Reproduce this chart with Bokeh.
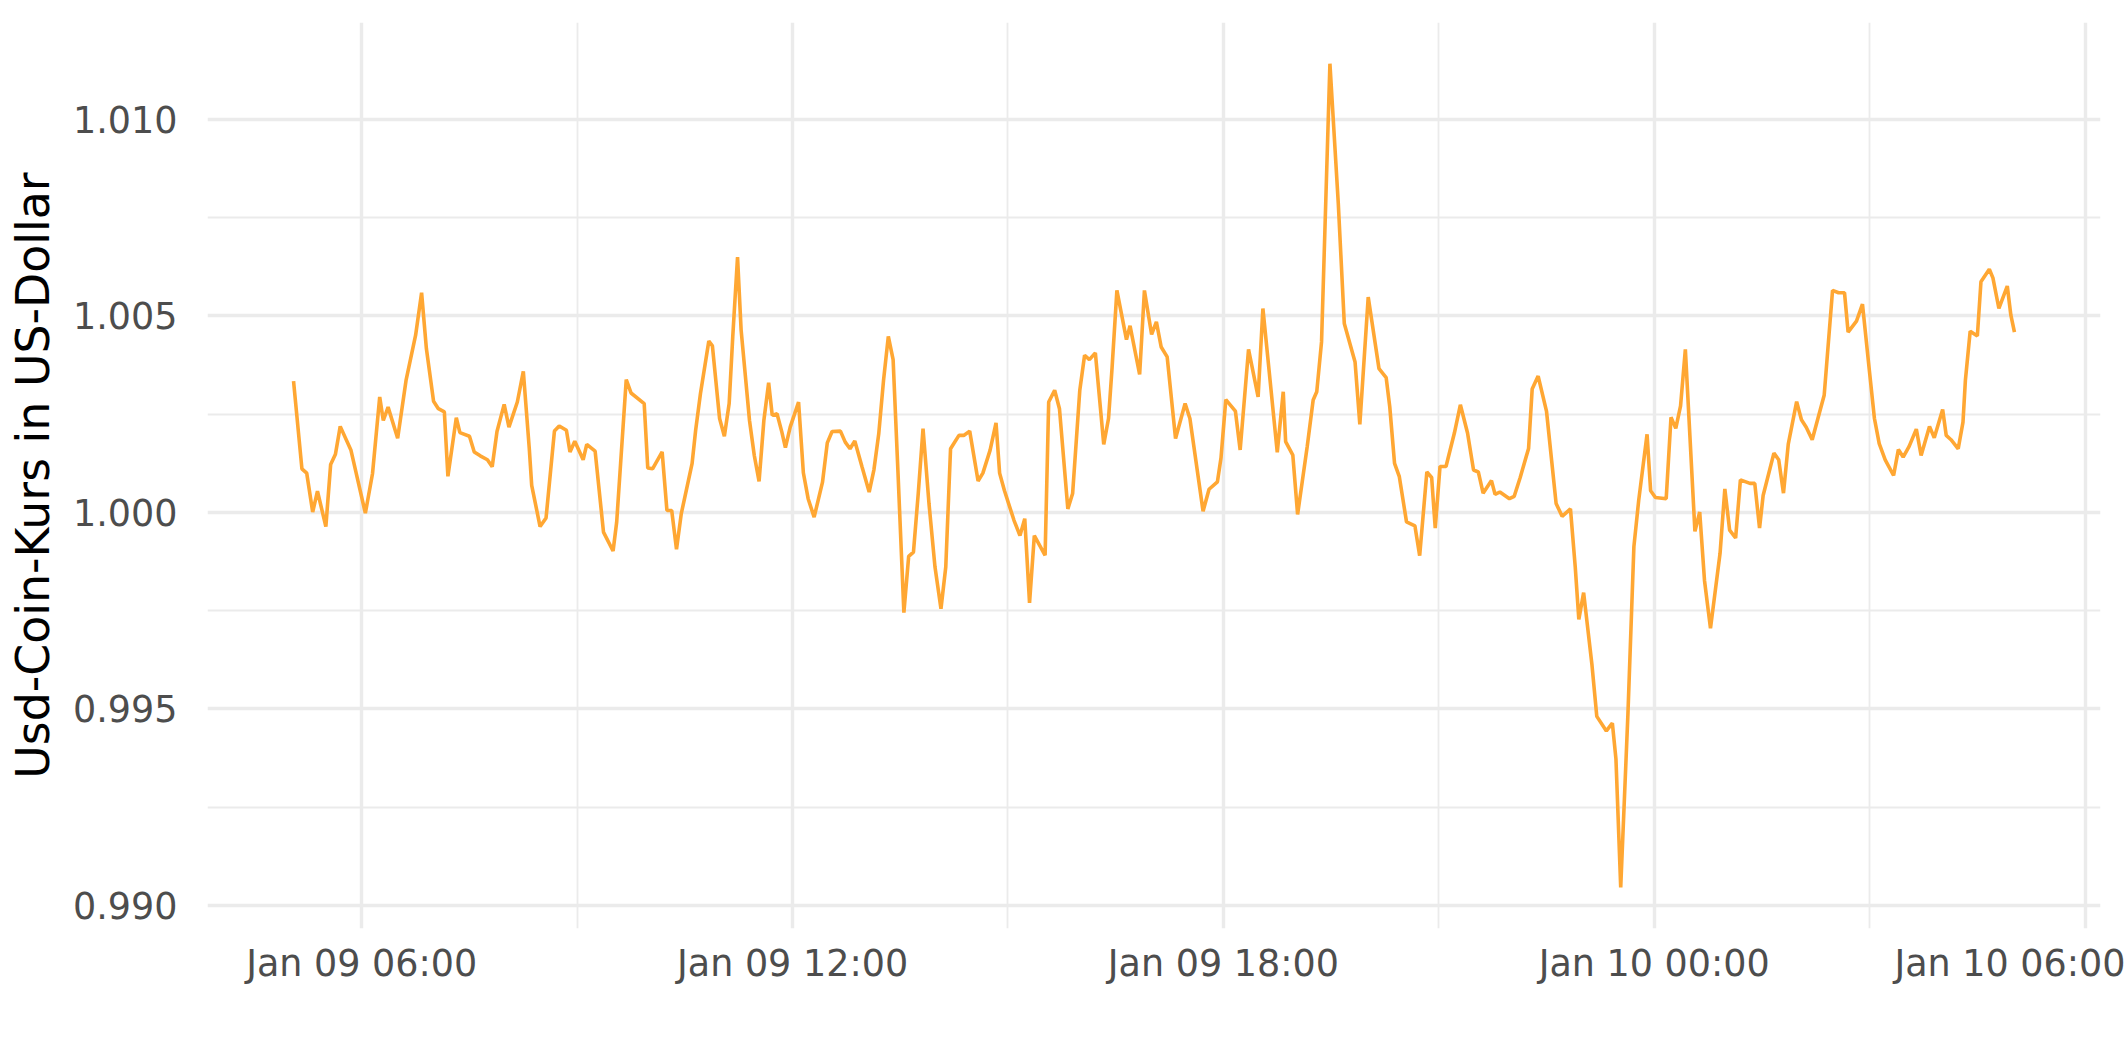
import pandas as pd
from bokeh.plotting import figure
from bokeh.models import Range1d, FixedTicker, DatetimeTickFormatter, NumeralTickFormatter
from bokeh.embed import file_html
from bokeh.resources import INLINE

# ---- data ----
timestamps = [
    "2023-01-09 05:03", "2023-01-09 05:10", "2023-01-09 05:14", "2023-01-09 05:19", "2023-01-09 05:23",
    "2023-01-09 05:30", "2023-01-09 05:34", "2023-01-09 05:38", "2023-01-09 05:42", "2023-01-09 05:51",
    "2023-01-09 06:03", "2023-01-09 06:09", "2023-01-09 06:15", "2023-01-09 06:18", "2023-01-09 06:22",
    "2023-01-09 06:30", "2023-01-09 06:37", "2023-01-09 06:45", "2023-01-09 06:50", "2023-01-09 06:54",
    "2023-01-09 07:00", "2023-01-09 07:04", "2023-01-09 07:09", "2023-01-09 07:12", "2023-01-09 07:19",
    "2023-01-09 07:22", "2023-01-09 07:30", "2023-01-09 07:34", "2023-01-09 07:39", "2023-01-09 07:45",
    "2023-01-09 07:49", "2023-01-09 07:53", "2023-01-09 07:59", "2023-01-09 08:03", "2023-01-09 08:10",
    "2023-01-09 08:15", "2023-01-09 08:20", "2023-01-09 08:22", "2023-01-09 08:29", "2023-01-09 08:34",
    "2023-01-09 08:41", "2023-01-09 08:45", "2023-01-09 08:51", "2023-01-09 08:54", "2023-01-09 08:58",
    "2023-01-09 09:05", "2023-01-09 09:08", "2023-01-09 09:15", "2023-01-09 09:22", "2023-01-09 09:30",
    "2023-01-09 09:33", "2023-01-09 09:41", "2023-01-09 09:45", "2023-01-09 09:56", "2023-01-09 09:59",
    "2023-01-09 10:03", "2023-01-09 10:11", "2023-01-09 10:15", "2023-01-09 10:19", "2023-01-09 10:23",
    "2023-01-09 10:27", "2023-01-09 10:36", "2023-01-09 10:39", "2023-01-09 10:43", "2023-01-09 10:50",
    "2023-01-09 10:53", "2023-01-09 10:59", "2023-01-09 11:03", "2023-01-09 11:07", "2023-01-09 11:10",
    "2023-01-09 11:14", "2023-01-09 11:17", "2023-01-09 11:24", "2023-01-09 11:28", "2023-01-09 11:32",
    "2023-01-09 11:36", "2023-01-09 11:40", "2023-01-09 11:43", "2023-01-09 11:47", "2023-01-09 11:51",
    "2023-01-09 11:54", "2023-01-09 11:58", "2023-01-09 12:05", "2023-01-09 12:09", "2023-01-09 12:13",
    "2023-01-09 12:18", "2023-01-09 12:25", "2023-01-09 12:29", "2023-01-09 12:33", "2023-01-09 12:40",
    "2023-01-09 12:44", "2023-01-09 12:48", "2023-01-09 12:52", "2023-01-09 12:58", "2023-01-09 13:04",
    "2023-01-09 13:08", "2023-01-09 13:12", "2023-01-09 13:16", "2023-01-09 13:20", "2023-01-09 13:24",
    "2023-01-09 13:28", "2023-01-09 13:33", "2023-01-09 13:37", "2023-01-09 13:41", "2023-01-09 13:45",
    "2023-01-09 13:49", "2023-01-09 13:54", "2023-01-09 13:59", "2023-01-09 14:04", "2023-01-09 14:08",
    "2023-01-09 14:12", "2023-01-09 14:19", "2023-01-09 14:23", "2023-01-09 14:28", "2023-01-09 14:35",
    "2023-01-09 14:39", "2023-01-09 14:45", "2023-01-09 14:50", "2023-01-09 14:53", "2023-01-09 14:57",
    "2023-01-09 15:05", "2023-01-09 15:10", "2023-01-09 15:14", "2023-01-09 15:18", "2023-01-09 15:22",
    "2023-01-09 15:31", "2023-01-09 15:34", "2023-01-09 15:39", "2023-01-09 15:43", "2023-01-09 15:50",
    "2023-01-09 15:54", "2023-01-09 16:00", "2023-01-09 16:04", "2023-01-09 16:08", "2023-01-09 16:13",
    "2023-01-09 16:20", "2023-01-09 16:24", "2023-01-09 16:27", "2023-01-09 16:31", "2023-01-09 16:39",
    "2023-01-09 16:42", "2023-01-09 16:50", "2023-01-09 16:54", "2023-01-09 17:00", "2023-01-09 17:04",
    "2023-01-09 17:08", "2023-01-09 17:13", "2023-01-09 17:20", "2023-01-09 17:28", "2023-01-09 17:32",
    "2023-01-09 17:43", "2023-01-09 17:48", "2023-01-09 17:55", "2023-01-09 17:58", "2023-01-09 18:02",
    "2023-01-09 18:10", "2023-01-09 18:14", "2023-01-09 18:21", "2023-01-09 18:29", "2023-01-09 18:33",
    "2023-01-09 18:45", "2023-01-09 18:50", "2023-01-09 18:52", "2023-01-09 18:58", "2023-01-09 19:02",
    "2023-01-09 19:10", "2023-01-09 19:15", "2023-01-09 19:18", "2023-01-09 19:22", "2023-01-09 19:29",
    "2023-01-09 19:36", "2023-01-09 19:41", "2023-01-09 19:50", "2023-01-09 19:54", "2023-01-09 20:01",
    "2023-01-09 20:10", "2023-01-09 20:16", "2023-01-09 20:19", "2023-01-09 20:23", "2023-01-09 20:27",
    "2023-01-09 20:33", "2023-01-09 20:40", "2023-01-09 20:44", "2023-01-09 20:50", "2023-01-09 20:54",
    "2023-01-09 20:57", "2023-01-09 21:01", "2023-01-09 21:06", "2023-01-09 21:13", "2023-01-09 21:18",
    "2023-01-09 21:24", "2023-01-09 21:29", "2023-01-09 21:33", "2023-01-09 21:37", "2023-01-09 21:44",
    "2023-01-09 21:47", "2023-01-09 21:51", "2023-01-09 21:59", "2023-01-09 22:03", "2023-01-09 22:08",
    "2023-01-09 22:15", "2023-01-09 22:18", "2023-01-09 22:23", "2023-01-09 22:30", "2023-01-09 22:38",
    "2023-01-09 22:43", "2023-01-09 22:50", "2023-01-09 22:54", "2023-01-09 22:57", "2023-01-09 23:01",
    "2023-01-09 23:08", "2023-01-09 23:12", "2023-01-09 23:20", "2023-01-09 23:25", "2023-01-09 23:28",
    "2023-01-09 23:32", "2023-01-09 23:38", "2023-01-09 23:43", "2023-01-09 23:47", "2023-01-09 23:54",
    "2023-01-09 23:57", "2023-01-10 00:01", "2023-01-10 00:10", "2023-01-10 00:14", "2023-01-10 00:18",
    "2023-01-10 00:22", "2023-01-10 00:26", "2023-01-10 00:34", "2023-01-10 00:38", "2023-01-10 00:42",
    "2023-01-10 00:47", "2023-01-10 00:55", "2023-01-10 00:59", "2023-01-10 01:03", "2023-01-10 01:08",
    "2023-01-10 01:12", "2023-01-10 01:20", "2023-01-10 01:24", "2023-01-10 01:28", "2023-01-10 01:31",
    "2023-01-10 01:40", "2023-01-10 01:44", "2023-01-10 01:48", "2023-01-10 01:52", "2023-01-10 01:59",
    "2023-01-10 02:03", "2023-01-10 02:07", "2023-01-10 02:12", "2023-01-10 02:18", "2023-01-10 02:22",
    "2023-01-10 02:29", "2023-01-10 02:34", "2023-01-10 02:39", "2023-01-10 02:42", "2023-01-10 02:49",
    "2023-01-10 02:54", "2023-01-10 02:59", "2023-01-10 03:04", "2023-01-10 03:08", "2023-01-10 03:13",
    "2023-01-10 03:20", "2023-01-10 03:24", "2023-01-10 03:28", "2023-01-10 03:33", "2023-01-10 03:39",
    "2023-01-10 03:43", "2023-01-10 03:50", "2023-01-10 03:54", "2023-01-10 04:01", "2023-01-10 04:04",
    "2023-01-10 04:08", "2023-01-10 04:14", "2023-01-10 04:18", "2023-01-10 04:20", "2023-01-10 04:24",
    "2023-01-10 04:30", "2023-01-10 04:33", "2023-01-10 04:40", "2023-01-10 04:43", "2023-01-10 04:48",
    "2023-01-10 04:55", "2023-01-10 04:58", "2023-01-10 05:01",
]

usdc_price = [
    1.00334, 1.00111, 1.00100, 1.00001, 1.00054,
    0.99964, 1.00122, 1.00148, 1.00219, 1.00158,
    0.99998, 1.00099, 1.00294, 1.00234, 1.00268,
    1.00189, 1.00336, 1.00451, 1.00559, 1.00417,
    1.00283, 1.00264, 1.00256, 1.00092, 1.00241,
    1.00203, 1.00194, 1.00154, 1.00144, 1.00134,
    1.00116, 1.00206, 1.00275, 1.00217, 1.00281,
    1.00359, 1.00162, 1.00069, 0.99964, 0.99986,
    1.00207, 1.00220, 1.00209, 1.00154, 1.00181,
    1.00134, 1.00173, 1.00156, 0.99950, 0.99902,
    0.99975, 1.00338, 1.00304, 1.00277, 1.00113,
    1.00111, 1.00154, 1.00005, 1.00005, 0.99906,
    0.99997, 1.00124, 1.00209, 1.00302, 1.00436,
    1.00424, 1.00239, 1.00194, 1.00277, 1.00447,
    1.00650, 1.00464, 1.00234, 1.00145, 1.00079,
    1.00234, 1.00330, 1.00247, 1.00251, 1.00205,
    1.00165, 1.00217, 1.00281, 1.00101, 1.00035,
    0.99988, 1.00077, 1.00177, 1.00206, 1.00207,
    1.00179, 1.00162, 1.00182, 1.00116, 1.00052,
    1.00109, 1.00200, 1.00336, 1.00448, 1.00389,
    1.00107, 0.99745, 0.99888, 0.99899, 1.00048,
    1.00213, 1.00022, 0.99861, 0.99755, 0.99861,
    1.00162, 1.00196, 1.00196, 1.00207, 1.00080,
    1.00100, 1.00158, 1.00228, 1.00100, 1.00056,
    0.99980, 0.99941, 0.99984, 0.99770, 0.99941,
    0.99891, 1.00281, 1.00311, 1.00264, 1.00009,
    1.00048, 1.00311, 1.00400, 1.00389, 1.00406,
    1.00173, 1.00239, 1.00370, 1.00565, 1.00440,
    1.00475, 1.00351, 1.00565, 1.00453, 1.00485,
    1.00421, 1.00396, 1.00188, 1.00277, 1.00239,
    1.00003, 1.00059, 1.00078, 1.00139, 1.00287,
    1.00258, 1.00159, 1.00415, 1.00294, 1.00519,
    1.00153, 1.00307, 1.00180, 1.00146, 0.99995,
    1.00167, 1.00286, 1.00307, 1.00434, 1.01142,
    1.00786, 1.00481, 1.00383, 1.00224, 1.00548,
    1.00366, 1.00343, 1.00269, 1.00125, 1.00091,
    0.99976, 0.99966, 0.99890, 1.00103, 1.00089,
    0.99960, 1.00117, 1.00117, 1.00202, 1.00274,
    1.00202, 1.00108, 1.00103, 1.00049, 1.00081,
    1.00046, 1.00052, 1.00035, 1.00041, 1.00089,
    1.00163, 1.00314, 1.00347, 1.00257, 1.00023,
    0.99990, 1.00009, 0.99861, 0.99728, 0.99796,
    0.99611, 0.99481, 0.99444, 0.99464, 0.99373,
    0.99046, 0.99486, 0.99913, 1.00030, 1.00199,
    1.00055, 1.00038, 1.00035, 1.00242, 1.00214,
    1.00271, 1.00415, 0.99952, 1.00001, 0.99827,
    0.99705, 0.99896, 1.00060, 0.99955, 0.99935,
    1.00083, 1.00074, 1.00074, 0.99960, 1.00043,
    1.00151, 1.00134, 1.00049, 1.00174, 1.00282,
    1.00236, 1.00217, 1.00185, 1.00253, 1.00298,
    1.00565, 1.00559, 1.00559, 1.00459, 1.00487,
    1.00530, 1.00383, 1.00239, 1.00175, 1.00134,
    1.00094, 1.00160, 1.00141, 1.00168, 1.00212,
    1.00145, 1.00219, 1.00190, 1.00262, 1.00196,
    1.00185, 1.00162, 1.00230, 1.00336, 1.00461,
    1.00449, 1.00587, 1.00619, 1.00597, 1.00519,
    1.00576, 1.00502, 1.00459,
]

x_ticks = ["2023-01-09 06:00", "2023-01-09 12:00", "2023-01-09 18:00",
           "2023-01-10 00:00", "2023-01-10 06:00"]
x_minor_ticks = ["2023-01-09 09:00", "2023-01-09 15:00", "2023-01-09 21:00",
                 "2023-01-10 03:00"]
y_ticks = [0.990, 0.995, 1.000, 1.005, 1.010]
y_minor_ticks = [0.9925, 0.9975, 1.0025, 1.0075]
y_axis_title = "Usd-Coin-Kurs in US-Dollar"


def to_ms(strings):
    ts = pd.to_datetime(strings)
    return [float((t - pd.Timestamp("1970-01-01")) / pd.Timedelta(milliseconds=1)) for t in ts]


x_ms = to_ms(timestamps)
xmin, xmax = min(x_ms), max(x_ms)
ymin, ymax = min(usdc_price), max(usdc_price)
xpad = 0.05 * (xmax - xmin)
ypad = 0.05 * (ymax - ymin)

FONT = "DejaVu Sans"

p = figure(
    width=2125, height=1062,
    x_axis_type="datetime",
    x_range=Range1d(xmin - xpad, xmax + xpad),
    y_range=Range1d(ymin - ypad, ymax + ypad),
    output_backend="svg", toolbar_location=None,
    min_border_left=207, min_border_right=25,
    min_border_top=22, min_border_bottom=134,
)
p.outline_line_color = None
p.background_fill_color = "white"
p.border_fill_color = "white"

p.line(pd.to_datetime(timestamps), usdc_price, line_color="#FFA733", line_width=3.6)

p.xaxis.ticker = FixedTicker(ticks=to_ms(x_ticks), minor_ticks=to_ms(x_minor_ticks))
fmt = "%b %d %H:%M"
p.xaxis.formatter = DatetimeTickFormatter(
    milliseconds=fmt, seconds=fmt, minsec=fmt, minutes=fmt, hourmin=fmt,
    hours=fmt, days=fmt, months=fmt, years=fmt)
p.yaxis.ticker = FixedTicker(ticks=y_ticks, minor_ticks=y_minor_ticks)
p.yaxis.formatter = NumeralTickFormatter(format="0.000")

for ax in (p.xaxis, p.yaxis):
    ax.axis_line_color = None
    ax.major_tick_line_color = None
    ax.minor_tick_line_color = None
    ax.major_label_text_font = FONT
    ax.major_label_text_font_size = "36.5px"
    ax.major_label_text_color = "#4D4D4D"

p.xaxis.major_label_standoff = 7
p.yaxis.major_label_standoff = 24

p.yaxis.axis_label = y_axis_title
p.yaxis.axis_label_text_font = FONT
p.yaxis.axis_label_text_font_size = "45.8px"
p.yaxis.axis_label_text_font_style = "normal"
p.yaxis.axis_label_text_color = "#000000"
p.yaxis.axis_label_standoff = 10

for g in (p.xgrid, p.ygrid):
    g.grid_line_color = "#EBEBEB"
    g.grid_line_width = 3.4
    g.minor_grid_line_color = "#EBEBEB"
    g.minor_grid_line_width = 1.8

open("out.html", "w").write(file_html(p, INLINE))
